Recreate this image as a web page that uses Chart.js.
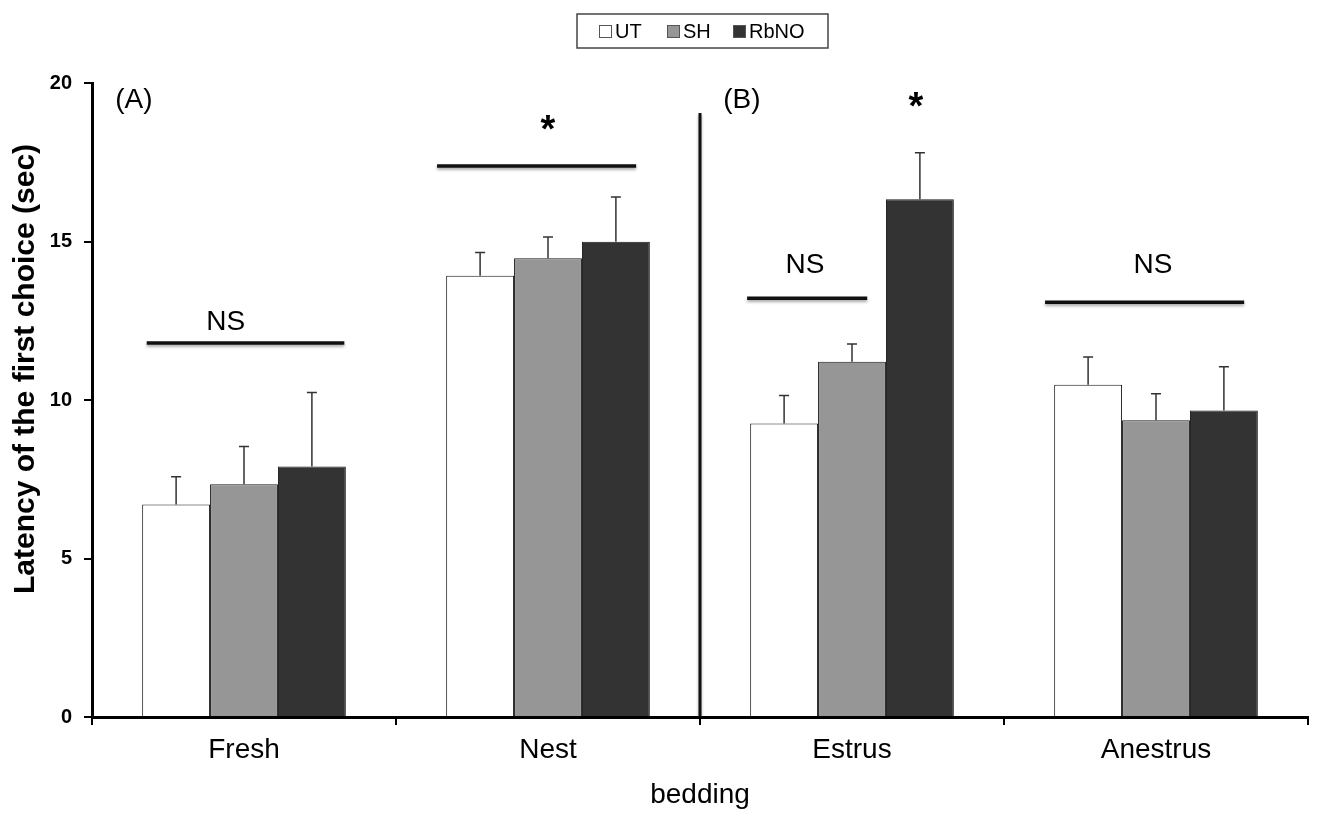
<!DOCTYPE html>
<html>
<head>
<meta charset="utf-8">
<script src="https://cdn.jsdelivr.net/npm/chart.js@4/dist/chart.umd.min.js"></script>
<style>
  body { margin: 0; background: #fff; }
  #wrap { width: 1317px; height: 816px; }
</style>
</head>
<body>
<div id="wrap"><canvas id="myChart" width="1317" height="816"></canvas></div>
<script>
// values
const categories = ['Fresh', 'Nest', 'Estrus', 'Anestrus'];
const seriesNames = ['UT', 'SH', 'RbNO'];
const utMean = [6.70, 13.92, 9.26, 10.48];
const utSem = [0.88, 0.73, 0.88, 0.88];
const shMean = [7.34, 14.47, 11.21, 9.36];
const shSem = [1.19, 0.67, 0.56, 0.84];
const rbMean = [7.90, 14.99, 16.33, 9.67];
const rbSem = [2.34, 1.41, 1.47, 1.38];
const yTicks = [0, 5, 10, 15, 20];

// significance brackets and labels (category index, value units)
const bracketCat = [0, 1, 2, 3];
const bracketFrom = [-0.32, -0.365, -0.345, -0.365];
const bracketTo = [0.33, 0.29, 0.05, 0.29];
const bracketY = [11.8, 17.38, 13.21, 13.08];
const markText = ['NS', '*', 'NS', '*', 'NS'];
const markCat = [0, 1, 2, 2, 3];
const markDx = [-0.06, 0, -0.155, 0.21, -0.01];
const markY = [12.46, 18.67, 14.26, 19.4, 14.26];
const panelText = ['(A)', '(B)'];
const panelCat = [0, 2];
const dividerTop = 19.05;

const colors = ['#ffffff', '#969696', '#333333'];
const FONT = '"Liberation Sans", Arial, sans-serif';

function catX(chart, cat, dx) {
    const xs = chart.scales.x;
    const w = xs.getPixelForValue(1) - xs.getPixelForValue(0);
    return xs.getPixelForValue(cat) + dx * w;
}

const extras = {
    id: 'extras',
    afterDatasetsDraw(chart) {
        const ctx = chart.ctx;
        const ys = chart.scales.y;
        const sems = [utSem, shSem, rbSem];
        const means = [utMean, shMean, rbMean];

        // error bars (upper only)
        ctx.save();
        ctx.strokeStyle = '#333';
        ctx.lineWidth = 1.5;
        chart.data.datasets.forEach((ds, d) => {
            chart.getDatasetMeta(d).data.forEach((bar, i) => {
                const top = ys.getPixelForValue(means[d][i] + sems[d][i]);
                ctx.beginPath();
                ctx.moveTo(bar.x, bar.y);
                ctx.lineTo(bar.x, top);
                ctx.moveTo(bar.x - 5, top);
                ctx.lineTo(bar.x + 5, top);
                ctx.stroke();
            });
        });
        ctx.restore();

        // brackets
        ctx.save();
        ctx.strokeStyle = '#111';
        ctx.lineWidth = 3.5;
        ctx.shadowColor = 'rgba(0,0,0,0.35)';
        ctx.shadowBlur = 3;
        ctx.shadowOffsetY = 2;
        bracketCat.forEach((c, i) => {
            const y = ys.getPixelForValue(bracketY[i]);
            ctx.beginPath();
            ctx.moveTo(catX(chart, c, bracketFrom[i]), y);
            ctx.lineTo(catX(chart, c, bracketTo[i]), y);
            ctx.stroke();
        });
        // divider between panels
        const xd = catX(chart, 1, 0.5);
        ctx.lineWidth = 3;
        ctx.beginPath();
        ctx.moveTo(xd, ys.getPixelForValue(dividerTop));
        ctx.lineTo(xd, ys.getPixelForValue(0));
        ctx.stroke();
        ctx.restore();

        // NS / * labels
        ctx.save();
        ctx.fillStyle = '#000';
        ctx.textAlign = 'center';
        markText.forEach((t, i) => {
            const x = catX(chart, markCat[i], markDx[i]);
            const y = ys.getPixelForValue(markY[i]);
            if (t === '*') {
                ctx.font = 'bold 38px ' + FONT;
                ctx.textBaseline = 'alphabetic';
                ctx.fillText(t, x, y + 17);
            } else {
                ctx.font = '28px ' + FONT;
                ctx.textBaseline = 'middle';
                ctx.fillText(t, x, y);
            }
        });
        ctx.font = '28px ' + FONT;
        ctx.textBaseline = 'middle';
        panelText.forEach((t, i) => {
            ctx.fillText(t, catX(chart, panelCat[i], -0.362), ys.getPixelForValue(19.46));
        });

        // y axis title
        ctx.translate(26, 369);
        ctx.rotate(-Math.PI / 2);
        ctx.font = 'bold 30px ' + FONT;
        ctx.fillText('Latency of the first choice (sec)', 0, 0);
        ctx.restore();

        // legend with frame
        ctx.save();
        ctx.strokeStyle = '#444';
        ctx.lineWidth = 1.5;
        ctx.strokeRect(577, 14, 251, 34);
        const boxX = [599, 667, 733];
        ctx.font = '20px ' + FONT;
        ctx.textBaseline = 'middle';
        ctx.textAlign = 'left';
        seriesNames.forEach((n, i) => {
            ctx.fillStyle = colors[i];
            ctx.fillRect(boxX[i], 25, 13, 13);
            ctx.strokeStyle = '#555';
            ctx.lineWidth = 1;
            ctx.strokeRect(boxX[i] + 0.5, 25.5, 12, 12);
            ctx.fillStyle = '#000';
            ctx.fillText(n, boxX[i] + 16, 32);
        });
        ctx.restore();
    }
};

function createGraph() {
    const ctx = document.getElementById('myChart').getContext('2d');
    const means = [utMean, shMean, rbMean];

    new Chart(ctx, {
        type: 'bar',
        data: {
            labels: categories,
            datasets: seriesNames.map((n, i) => ({
                label: n,
                data: means[i],
                backgroundColor: colors[i],
                borderColor: '#1a1a1a',
                borderWidth: 1,
                categoryPercentage: 0.67,
                barPercentage: 1.0
            }))
        },
        options: {
            responsive: false,
            animation: false,
            layout: { padding: { left: 0, right: 9, top: 83, bottom: 0 } },
            plugins: {
                legend: { display: false },
                tooltip: { enabled: false }
            },
            scales: {
                x: {
                    afterFit: (s) => { s.height = 99; },
                    grid: { drawOnChartArea: false, color: '#000', lineWidth: 2, tickLength: 8, offset: true },
                    border: { display: true, color: '#000', width: 3 },
                    ticks: { color: '#000', font: { family: FONT, size: 28 }, padding: 8 },
                    title: { display: true, text: 'bedding', color: '#000', font: { family: FONT, size: 28 }, padding: { top: 0, bottom: 4 } }
                },
                y: {
                    min: 0,
                    max: 20,
                    afterFit: (s) => { s.width = 92; },
                    afterBuildTicks: (s) => { s.ticks = yTicks.map(v => ({ value: v })); },
                    grid: { drawOnChartArea: false, color: '#000', lineWidth: 2, tickLength: 8 },
                    border: { display: true, color: '#000', width: 3 },
                    ticks: { color: '#000', font: { family: FONT, size: 20, weight: 'bold' }, padding: 12 }
                }
            }
        },
        plugins: [extras]
    });
}

document.addEventListener('DOMContentLoaded', createGraph);
</script>
</body>
</html>
